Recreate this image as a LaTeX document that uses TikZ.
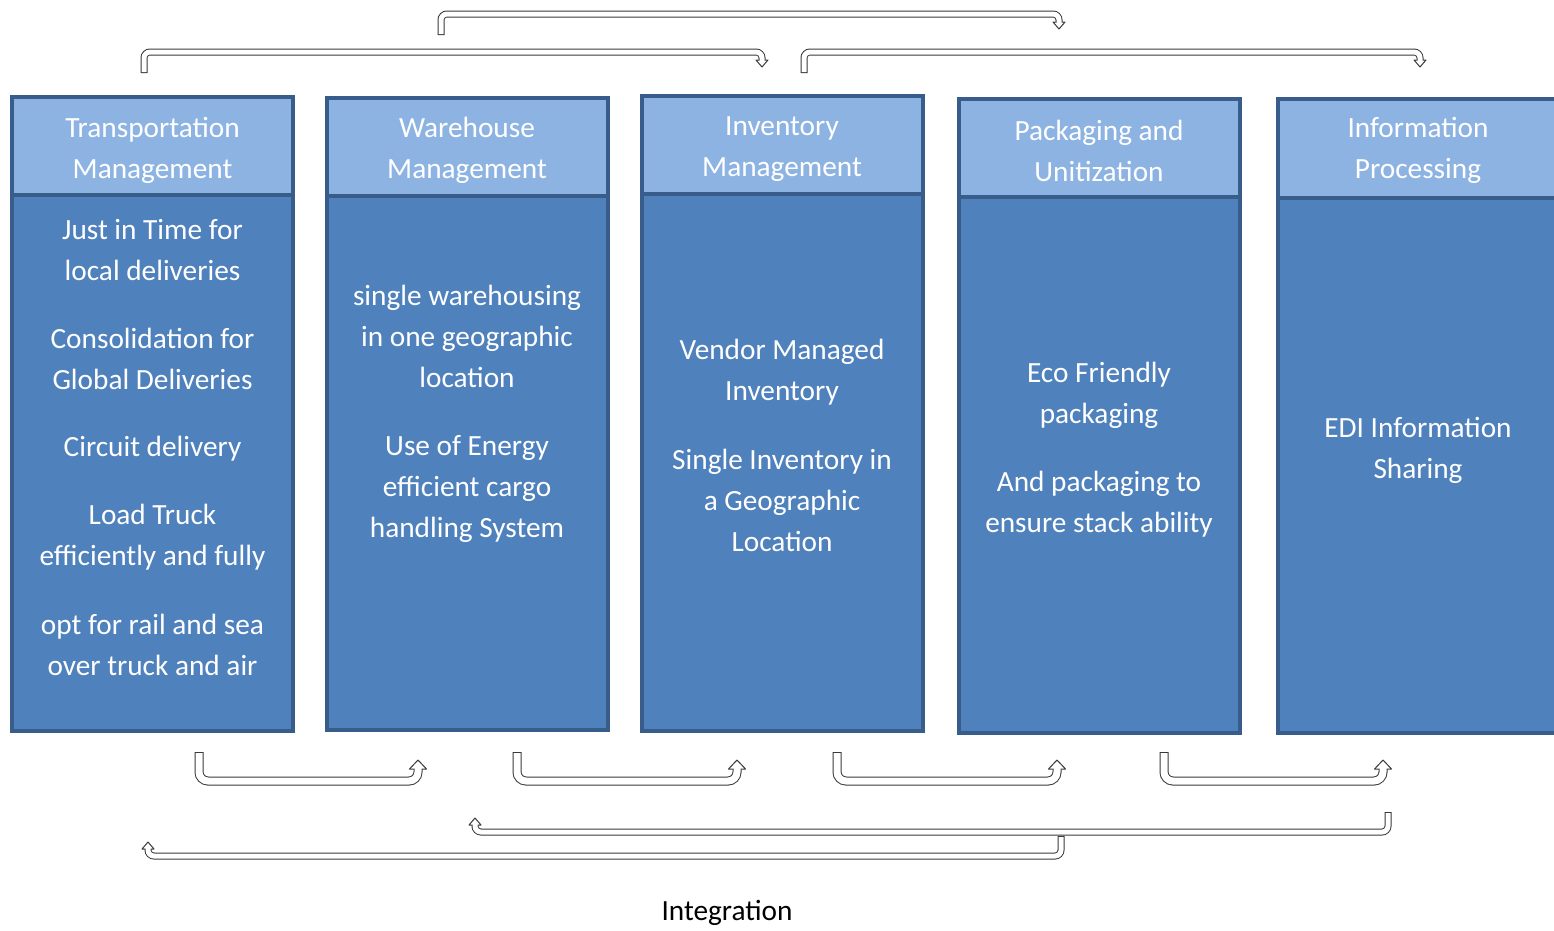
\documentclass[tikz,border=0pt]{standalone}
\usepackage{fontspec}
\setmainfont{Carlito}
\definecolor{bordblue}{HTML}{385D8A}
\definecolor{hdrblue}{HTML}{8DB3E2}
\definecolor{bodyblue}{HTML}{4F81BD}
\definecolor{agray}{HTML}{3A3A3A}
\newcommand\hollowarrow[6]{% #1 outer width, #2 inner width, #3 radius, #4 path, #5 head base, #6 head polygon
  \draw[line width=#1, draw=agray, rounded corners=#3] #4;
  \filldraw[fill=white, draw=agray, line width=1pt, line join=round, shift={#5}] #6;
  \draw[line width=#2, white, rounded corners=#3, shorten <=1pt, shorten >=-1.5pt] #4;
}
\begin{document}
\begin{tikzpicture}[x=1pt,y=-1pt,
  hdr/.style={draw=bordblue, fill=hdrblue, line width=4pt, minimum width=281pt, minimum height=98pt, inner sep=0pt},
  bodybox/.style={draw=bordblue, fill=bodyblue, line width=4pt, minimum width=281pt, inner sep=0pt},
  txt/.style={text=white, align=center, font=\fontsize{29.3}{41}\selectfont, inner sep=0pt},
]
\clip (0,0) rectangle (1554,930);
\fill[white] (0,0) rectangle (1554,930);

% ---- boxes ----
\node[bodybox, minimum height=536pt] (b1) at (152.5,463) {};
\node[hdr] (h1) at (152.5,146) {};
\node[bodybox, minimum height=534pt] (b2) at (467,463) {};
\node[hdr] (h2) at (467,147) {};
\node[bodybox, minimum height=537pt] (b3) at (782,462.5) {};
\node[hdr] (h3) at (782,145) {};
\node[bodybox, minimum height=536pt] (b4) at (1099,465) {};
\node[hdr] (h4) at (1099,147.5) {};
\node[bodybox, minimum height=535pt] (b5) at (1418,465.5) {};
\node[hdr, minimum height=99pt] (h5) at (1418,148.5) {};

% ---- header texts ----
\node[txt] (t1) at (152.5,150) {Transportation\\Management};
\node[txt] (t2) at (467,150) {Warehouse\\Management};
\node[txt] (t3) at (782,149) {Inventory\\Management};
\node[txt] (t4) at (1099,150.5) {Packaging and\\Unitization};
\node[txt] (t5) at (1418,150.5) {Information\\Processing};

% ---- body texts ----
\node[txt] (p11) at (152.5,250) {Just in Time for\\local deliveries};
\node[txt] (p12) at (152.5,359) {Consolidation for\\Global Deliveries};
\node[txt] (p13) at (152.5,449) {Circuit delivery};
\node[txt] (p14) at (152.5,537) {Load Truck\\efficiently and fully};
\node[txt] (p15) at (152.5,645) {opt for rail and sea\\over truck and air};
\node[txt] (p21) at (467,336.5) {single warehousing\\in one geographic\\location};
\node[txt] (p22) at (467,488.5) {Use of Energy\\efficient cargo\\handling System};
\node[txt] (p31) at (782,372.5) {Vendor Managed\\Inventory};
\node[txt] (p32) at (782,500) {Single Inventory in\\a Geographic\\Location};
\node[txt] (p41) at (1099,395.5) {Eco Friendly\\packaging};
\node[txt] (p42) at (1099,504) {And packaging to\\ensure stack ability};
\node[txt] (p51) at (1418,450) {EDI Information\\Sharing};

\node[inner sep=0pt, font=\fontsize{29.3}{41}\selectfont] (integ) at (727,913) {Integration};

% ---- arrow coordinates ----
\coordinate (a1s) at (144,73);  \coordinate (a1h) at (762,52);  \coordinate (a1e) at (762,60);
\coordinate (a2s) at (441,35);  \coordinate (a2h) at (1059,14); \coordinate (a2e) at (1059,22);
\coordinate (a3s) at (804,73);  \coordinate (a3h) at (1420,52); \coordinate (a3e) at (1420,60);

\coordinate (u1s) at (199,752);  \coordinate (u1b) at (418,781);  \coordinate (u1e) at (418,769);
\coordinate (u2s) at (517,752);  \coordinate (u2b) at (737,781);  \coordinate (u2e) at (737,769);
\coordinate (u3s) at (837,752);  \coordinate (u3b) at (1057,781); \coordinate (u3e) at (1057,769);
\coordinate (u4s) at (1164,752); \coordinate (u4b) at (1383,781); \coordinate (u4e) at (1383,769);

\coordinate (l1s) at (1388,812); \coordinate (l1b) at (475,832); \coordinate (l1e) at (475,825);
\coordinate (l2s) at (1061,836); \coordinate (l2b) at (148,856); \coordinate (l2e) at (148,849);

% ---- top arrows (pointing down) ----
\hollowarrow{7pt}{5pt}{6pt}{(a1s) |- (a1h) -- (a1e)}{(a1e)}{(-6,0) -- (0,7) -- (6,0) -- cycle}
\hollowarrow{7pt}{5pt}{6pt}{(a2s) |- (a2h) -- (a2e)}{(a2e)}{(-6,0) -- (0,7) -- (6,0) -- cycle}
\hollowarrow{7pt}{5pt}{6pt}{(a3s) |- (a3h) -- (a3e)}{(a3e)}{(-6,0) -- (0,7) -- (6,0) -- cycle}

% ---- bottom U arrows (pointing up) ----
\hollowarrow{9pt}{7pt}{9pt}{(u1s) |- (u1b) -- (u1e)}{(u1e)}{(-8.5,0) -- (0,-9) -- (8.5,0) -- cycle}
\hollowarrow{9pt}{7pt}{9pt}{(u2s) |- (u2b) -- (u2e)}{(u2e)}{(-8.5,0) -- (0,-9) -- (8.5,0) -- cycle}
\hollowarrow{9pt}{7pt}{9pt}{(u3s) |- (u3b) -- (u3e)}{(u3e)}{(-8.5,0) -- (0,-9) -- (8.5,0) -- cycle}
\hollowarrow{9pt}{7pt}{9pt}{(u4s) |- (u4b) -- (u4e)}{(u4e)}{(-8.5,0) -- (0,-9) -- (8.5,0) -- cycle}

% ---- long return arrows (pointing up at the left end) ----
\hollowarrow{7pt}{5pt}{6pt}{(l1s) |- (l1b) -- (l1e)}{(l1e)}{(-6,0) -- (0,-7) -- (6,0) -- cycle}
\hollowarrow{7pt}{5pt}{6pt}{(l2s) |- (l2b) -- (l2e)}{(l2e)}{(-6,0) -- (0,-7) -- (6,0) -- cycle}
\end{tikzpicture}
\end{document}
